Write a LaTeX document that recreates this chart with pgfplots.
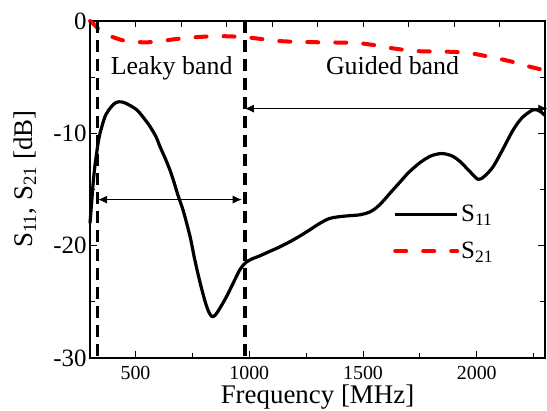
\documentclass[border=0pt]{standalone}
\usepackage{fontspec}
\setmainfont{Liberation Serif}
\usepackage{pgfplots}
\pgfplotsset{compat=1.18}
\usetikzlibrary{arrows.meta,calc}
\newcommand\fs[1]{\fontsize{#1}{#1}\selectfont}
\begin{document}
\begin{tikzpicture}
\begin{axis}[
 name=main,
 scale only axis, width=455bp, height=337bp,
 xmin=300, xmax=2300, ymin=-30, ymax=0,
 axis line style={line width=1.3bp},
 xtick={500,1000,1500,2000}, minor xtick={750,1250,1750,2250},
 ytick={-30,-20,-10,0}, minor ytick={-25,-15,-5},
 xtick pos=bottom, ytick pos=both,
 tick align=inside,
 major tick length=7bp, minor tick length=5bp,
 every tick/.style={black, line width=1bp},
 /pgf/number format/assume math mode=true,
 /pgf/number format/1000 sep={},
 xticklabel style={font=\fs{20}, yshift=-5bp},
 yticklabel style={font=\fs{25}},
 xlabel={Frequency [MHz]},
 ylabel={S\textsubscript{11}, S\textsubscript{21} [dB]},
 xlabel style={font=\fs{27}, at={(axis description cs:0.5,-0.116)}, anchor=center},
 ylabel style={font=\fs{27}, at={(axis description cs:-0.143,0.531)}, anchor=center},
 clip=false,
 legend style={at={(rel axis cs:0.666,0.46)}, anchor=north west, draw=none, fill=none, font=\fs{25}, row sep=15bp, inner sep=0pt},
 legend cell align=left,
 legend image code/.code={\draw[#1] (0bp,0bp) -- (62bp,0bp);},
]
\addplot[black, line width=3.2bp, smooth, tension=0.5, line join=round] coordinates {
(300,-18.0) (307,-16.2) (314,-14.4) (321,-13.0) (329,-11.8) (336,-10.8) (344,-10.0)
(355,-9.2) (366,-8.5) (380,-8.0) (395,-7.6) (415,-7.25) (439,-7.2) (465,-7.4)
(505,-7.9) (535,-8.6) (564,-9.4) (590,-10.3) (608,-11.2) (630,-12.2) (652,-13.3)
(670,-14.4) (688,-15.6) (710,-16.9) (740,-19.2) (760,-21.2) (784,-23.3) (805,-24.9)
(820,-25.8) (835,-26.3) (850,-26.2) (870,-25.6) (901,-24.5) (935,-23.1) (960,-22.1)
(985,-21.5) (1010,-21.2) (1047,-20.9) (1091,-20.5) (1135,-20.1) (1192,-19.5)
(1250,-18.8) (1311,-18.0) (1350,-17.6) (1385,-17.45) (1430,-17.35) (1487,-17.25)
(1530,-17.0) (1560,-16.6) (1590,-16.0) (1620,-15.3) (1660,-14.4) (1700,-13.5)
(1751,-12.6) (1800,-12.0) (1846,-11.8) (1890,-12.0) (1926,-12.5) (1965,-13.3)
(2006,-14.1) (2035,-13.8) (2071,-13.0) (2110,-11.6) (2160,-9.7) (2200,-8.6)
(2248,-7.9) (2275,-8.0) (2300,-8.4)
};
\addlegendentry{S\textsubscript{11}}
\addplot[red, line width=4bp, dash pattern=on 11bp off 17bp, line cap=round, smooth, tension=0.5] coordinates {
(300,0) (320,-0.35) (344,-0.85) (370,-1.2) (417,-1.55) (450,-1.75) (490,-1.85)
(550,-1.9) (615,-1.78) (680,-1.6) (760,-1.45) (850,-1.35) (930,-1.38) (1000,-1.48)
(1060,-1.62) (1130,-1.78) (1200,-1.85) (1320,-1.9) (1465,-1.95) (1550,-2.15)
(1620,-2.4) (1700,-2.62) (1760,-2.7) (1900,-2.75) (1980,-2.9) (2060,-3.2)
(2150,-3.6) (2220,-4.0) (2300,-4.4)
};
\addlegendentry{S\textsubscript{21}}
\addplot[black, line width=3.2bp, dash pattern=on 12bp off 7bp, forget plot] coordinates {(332,0) (332,-30)};
\addplot[black, line width=3.2bp, dash pattern=on 12bp off 7bp, forget plot] coordinates {(981,0) (981,-30)};
\addplot[black, line width=0.8bp, {Latex[length=9bp,width=8bp]}-{Latex[length=9bp,width=8bp]}, forget plot] coordinates {(336,-15.9) (967,-15.9)};
\addplot[black, line width=0.8bp, {Latex[length=9bp,width=8bp]}-{Latex[length=9bp,width=8bp]}, forget plot] coordinates {(981,-7.8) (2310,-7.8)};
\node[font=\fs{26}, anchor=base] at (axis cs:659,-4.8) {Leaky band};
\node[font=\fs{26}, anchor=base] at (axis cs:1630,-4.8) {Guided band};
\end{axis}
\begin{axis}[
 scale only axis, width=455bp, height=337bp,
 xmin=300, xmax=2300, ymin=-30, ymax=0,
 axis line style={draw=none},
 xtick={300,500,...,2300}, xtick pos=top, xticklabel=\empty,
 ytick=\empty,
 tick align=inside, major tick length=6bp,
 every tick/.style={black, line width=1bp},
]
\end{axis}
\pgfresetboundingbox
\path ($(main.south west)+(-90bp,-53bp)$) rectangle ($(main.north east)+(2bp,21bp)$);
\end{tikzpicture}
\end{document}
